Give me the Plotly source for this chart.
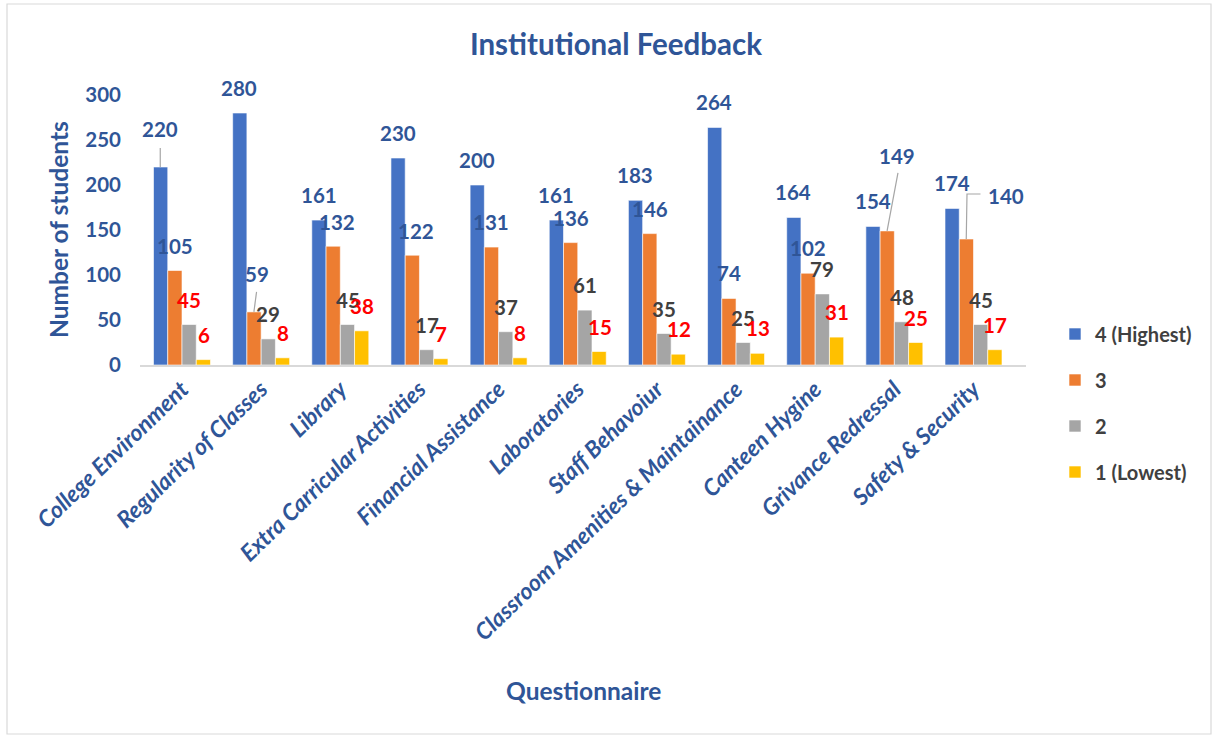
import plotly.graph_objects as go

# ---------------- data ----------------
categories = [
    "College Environment", "Regularity of Classes", "Library",
    "Extra Carricular Activities", "Financial Assistance", "Laboratories",
    "Staff Behavoiur", "Classroom Amenities & Maintainance", "Canteen Hygine",
    "Grivance Redressal", "Safety & Security",
]
series_names = ["4 (Highest)", "3", "2", "1 (Lowest)"]
rating4 = [220, 280, 161, 230, 200, 161, 183, 264, 164, 154, 174]
rating3 = [105, 59, 132, 122, 131, 136, 146, 74, 102, 149, 140]
rating2 = [45, 29, 45, 17, 37, 61, 35, 25, 79, 48, 45]
rating1 = [6, 8, 38, 7, 8, 15, 12, 13, 31, 25, 17]
y_ticks = [0, 50, 100, 150, 200, 250, 300]

# ---------------- styles ----------------
values = [rating4, rating3, rating2, rating1]
bar_colors = ["#4472C4", "#ED7D31", "#A5A5A5", "#FFC000"]
label_colors = ["#2F5597", "#2F5597", "#404040", "#FF0000"]
label_color_override = {(2, 0): "#FF0000"}
TXT = "#2F5597"
FONT = "Lato"

# default label placement: above bar centre (pixels)
bar_offsets = [-21.75, -7.25, 7.25, 21.75]
default_lift = 25
# manually moved labels: (series, category) -> (xshift, yshift)
label_moves = {
    (0, 0): (-22, 38),
    (1, 1): (-4.6, 38),
    (1, 2): (-3.2, 24.5),
    (1, 3): (-3.8, 24.5),
    (1, 9): (2.6, 75),
    (1, 10): (32.5, 43),
}
# leader lines: (series, category) -> path relative to bar top (px, y up)
leaders = {
    (0, 0): "M -21.75,0 L -21.75,19",
    (1, 1): "M -7.25,0 L -4.6,20",
    (1, 9): "M -7.25,0 L 3.6,58",
    (1, 10): "M -7.25,0 L -6.5,45 L 7,45",
}

fig = go.Figure()
for s in range(4):
    fig.add_trace(go.Bar(
        x=categories, y=values[s], name=series_names[s],
        marker=dict(color=bar_colors[s], line=dict(color="white", width=0.6)),
        legendgroup=str(s),
    ))

annotations = []
for s in range(4):
    for i, cat in enumerate(categories):
        xs, ys = label_moves.get((s, i), (bar_offsets[s], default_lift))
        annotations.append(dict(
            x=cat, y=values[s][i], xref="x", yref="y",
            text="<b>%d</b>" % values[s][i], showarrow=False,
            xshift=xs, yshift=ys, xanchor="center", yanchor="middle",
            font=dict(family=FONT, size=20.5,
                      color=label_color_override.get((s, i), label_colors[s])),
        ))

shapes = []
for (s, i), path in leaders.items():
    shapes.append(dict(
        type="path", xref="x", yref="y", xsizemode="pixel", ysizemode="pixel",
        xanchor=categories[i], yanchor=values[s][i], path=path,
        line=dict(color="#A6A6A6", width=1.2), layer="above",
    ))
# outer chart border
shapes.append(dict(type="rect", xref="paper", yref="paper",
                   x0=(7 - 140) / 886, x1=(1211 - 140) / 886,
                   y0=(365 - 734) / 270, y1=(365 - 4) / 270,
                   line=dict(color="#D9D9D9", width=1.2), layer="below"))

# axis titles
annotations.append(dict(text="<b>Number of students</b>", xref="paper", yref="paper",
                        x=(58 - 140) / 886, y=0.5, textangle=-90, showarrow=False,
                        xanchor="center", yanchor="middle",
                        font=dict(family=FONT, size=24.5, color=TXT)))
annotations.append(dict(text="<b>Questionnaire</b>", xref="paper", yref="paper",
                        x=0.5, y=(365 - 690) / 270, showarrow=False,
                        xanchor="center", yanchor="middle",
                        font=dict(family=FONT, size=24.5, color=TXT)))

fig.update_layout(
    width=1218, height=735,
    margin=dict(l=140, r=192, t=95, b=370),
    paper_bgcolor="white", plot_bgcolor="white",
    barmode="group", bargap=0.28, bargroupgap=0,
    title=dict(text="<b>Institutional Feedback</b>", x=616 / 1218, xref="container",
               y=1 - 45 / 735, yref="container", xanchor="center", yanchor="middle",
               font=dict(family=FONT, size=29.5, color=TXT)),
    xaxis=dict(type="category", showline=True, linecolor="#D9D9D9", linewidth=1.5,
               showgrid=False, ticks="", tickangle=-44,
               tickfont=dict(family=FONT, size=23, color=TXT, weight="bold", style="italic")),
    yaxis=dict(range=[0, 300], tickvals=y_ticks, showgrid=False, zeroline=False,
               showline=False, ticks="", ticklabelstandoff=18,
               tickfont=dict(family=FONT, size=20.5, color=TXT, weight="bold")),
    legend=dict(xref="container", yref="container", x=1055 / 1218, y=1 - 403 / 735,
                xanchor="left", yanchor="middle", tracegroupgap=17,
                font=dict(family=FONT, size=20, color="#404040", weight="bold"),
                traceorder="grouped"),
    annotations=annotations, shapes=shapes,
    showlegend=True,
)

fig.write_html("out.html", config={"displayModeBar": False},
               post_script="document.body.style.margin='0';document.body.style.overflow='hidden';")
